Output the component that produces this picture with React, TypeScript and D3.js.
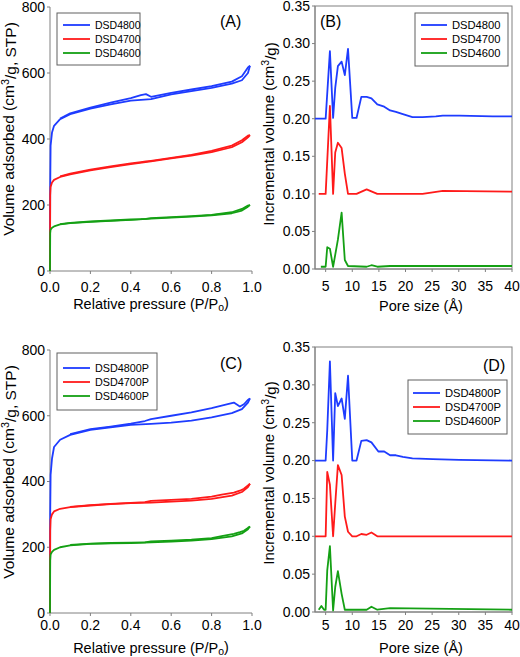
import React from 'react';
import * as d3 from 'd3';

// ---------- colours ----------
const BLUE = '#1e3cff';
const RED = '#ff1a1a';
const GREEN = '#14a014';
const AXIS = '#808080';

// ---------- panel A / C : isotherms ----------
const P_ADS = [0, 0.001, 0.003, 0.01, 0.02, 0.05, 0.1, 0.2, 0.3, 0.4, 0.5, 0.6, 0.7, 0.8, 0.9, 0.95, 0.98, 0.99];

const A_NAMES = ['DSD4800', 'DSD4700', 'DSD4600'];
const A_BLUE_ADS = [0, 250, 380, 420, 440, 460, 475, 492, 505, 516, 521, 535, 545, 555, 568, 578, 600, 622];
const A_RED_ADS = [0, 230, 255, 268, 276, 285, 293, 305, 315, 324, 332, 341, 350, 360, 375, 390, 405, 412];
const A_GREEN_ADS = [0, 115, 125, 131, 135, 141, 145, 149, 152, 155, 159, 162, 165, 169, 175, 183, 195, 200];
const P_DES_A = [0.99, 0.98, 0.95, 0.9, 0.8, 0.7, 0.6, 0.5, 0.475, 0.45, 0.4, 0.3, 0.2, 0.1, 0.05];
const A_BLUE_DES = [622, 617, 590, 574, 560, 550, 540, 528, 536, 533, 524, 510, 495, 478, 462];
const A_RED_DES = [412, 410, 396, 380, 364, 352, 343, 334, 332, 330, 326, 317, 307, 295, 287];
const A_GREEN_DES = [200, 198, 188, 178, 170, 166, 163, 160, 158, 157, 156, 153, 150, 146, 142];

const C_NAMES = ['DSD4800P', 'DSD4700P', 'DSD4600P'];
const C_BLUE_ADS = [0, 300, 420, 470, 505, 527, 542, 557, 565, 572, 575, 579, 585, 595, 608, 620, 640, 653];
const C_RED_ADS = [0, 250, 285, 300, 309, 317, 322, 327, 331, 334, 336, 339, 342, 347, 357, 368, 383, 393];
const C_GREEN_ADS = [0, 160, 178, 186, 192, 200, 206, 210, 212, 213, 215, 217, 220, 225, 233, 242, 255, 263];
const P_DES_C = [0.99, 0.98, 0.96, 0.94, 0.91, 0.85, 0.8, 0.7, 0.6, 0.5, 0.47, 0.4, 0.3, 0.2, 0.1];
const C_BLUE_DES = [653, 648, 635, 628, 640, 631, 623, 610, 600, 590, 584, 576, 567, 559, 544];
const C_RED_DES = [393, 388, 378, 372, 366, 360, 354, 347, 344, 341, 337, 335, 332, 328, 323];
const C_GREEN_DES = [263, 259, 250, 246, 241, 234, 228, 223, 220, 218, 215, 214, 213, 211, 207];

const ISO_X_TICKS = [0, 0.2, 0.4, 0.6, 0.8, 1.0];
const ISO_Y_TICKS = [0, 200, 400, 600, 800];

// ---------- panel B / D : pore size distributions ----------
const B_BLUE_X = [3, 5, 5.8, 6.4, 6.8, 7.3, 8.0, 8.6, 9.2, 10.0, 10.8, 11.7, 12.7, 13.6, 14.7, 16, 17.1, 18.2, 19.5, 21.3, 23.2, 25.7, 27, 30.1, 36.4, 40];
const B_BLUE_Y = [0.2, 0.2, 0.29, 0.201, 0.241, 0.27, 0.276, 0.258, 0.293, 0.201, 0.201, 0.229, 0.229, 0.227, 0.219, 0.216, 0.211, 0.209, 0.206, 0.202, 0.202, 0.203, 0.204, 0.204, 0.203, 0.203];
const B_RED_X = [3.7, 5, 5.8, 6.4, 6.8, 7.3, 8.0, 8.6, 9.2, 10.8, 12.7, 14.7, 21.3, 23.2, 27, 40];
const B_RED_Y = [0.1, 0.1, 0.217, 0.1, 0.155, 0.168, 0.161, 0.127, 0.1, 0.1, 0.106, 0.1, 0.1, 0.1, 0.104, 0.103];
const B_GREEN_X = [4.1, 5, 5.3, 5.8, 6.4, 7.3, 8.0, 8.6, 9.2, 12.7, 13.6, 14.7, 17.1, 40];
const B_GREEN_Y = [0.003, 0.003, 0.029, 0.027, 0.003, 0.039, 0.075, 0.012, 0.004, 0.003, 0.005, 0.003, 0.004, 0.004];

const D_BLUE_X = [3, 5, 5.3, 5.8, 6.4, 6.8, 7.3, 8.0, 8.6, 9.2, 10, 10.8, 11.7, 12.7, 13.6, 14.9, 16, 17.1, 18.2, 19.5, 21.3, 25.1, 30.1, 40];
const D_BLUE_Y = [0.2, 0.2, 0.24, 0.331, 0.2, 0.289, 0.272, 0.282, 0.255, 0.312, 0.2, 0.2, 0.226, 0.227, 0.224, 0.212, 0.212, 0.207, 0.207, 0.205, 0.203, 0.202, 0.201, 0.2];
const D_RED_X = [3, 5, 5.3, 5.8, 6.4, 6.8, 7.3, 8.0, 8.6, 9.2, 10, 10.8, 11.7, 12.7, 13.6, 14.7, 40];
const D_RED_Y = [0.1, 0.1, 0.185, 0.168, 0.1, 0.143, 0.194, 0.181, 0.126, 0.106, 0.1, 0.1, 0.103, 0.102, 0.105, 0.1, 0.1];
const D_GREEN_X = [3.7, 4.2, 4.7, 5, 5.3, 5.8, 6.4, 6.8, 7.3, 8.0, 8.6, 12.7, 13.6, 14.7, 17.1, 40];
const D_GREEN_Y = [0.003, 0.008, 0.003, 0.003, 0.055, 0.087, 0.002, 0.033, 0.054, 0.024, 0.003, 0.003, 0.007, 0.003, 0.005, 0.003];

const PSD_X_TICKS = [5, 10, 15, 20, 25, 30, 35, 40];
const PSD_Y_TICKS = [0, 0.05, 0.1, 0.15, 0.2, 0.25, 0.3, 0.35];

const FONT = '"Liberation Sans", Arial, sans-serif';

type Line = { x: number[]; y: number[]; color: string };

interface PanelProps {
  x0: number; x1: number; y0: number; y1: number;
  xDomain: [number, number]; yDomain: [number, number];
  xTicks: number[]; yTicks: number[];
  xFmt: (v: number) => string; yFmt: (v: number) => string;
  lines: Line[];
  box: boolean;
  tag: string; tagX: number; tagY: number;
  legend: { names: string[]; colors: string[]; x: number; y: number; w: number; h: number; lx0: number; lx1: number; tx: number; rows: number[]; fs: number };
  yTitle: React.ReactNode; yTitleX: number; yTitleY: number; yTitleFs: number;
  xTitle: React.ReactNode; xTitleX: number; xTitleY: number;
  xTickY: number; yTickX: number;
}

function Panel(p: PanelProps) {
  const xs = d3.scaleLinear().domain(p.xDomain).range([p.x0, p.x1]);
  const ys = d3.scaleLinear().domain(p.yDomain).range([p.y1, p.y0]);
  const gen = d3.line<[number, number]>().x(d => xs(d[0])).y(d => ys(d[1]));
  return (
    <g>
      {p.box && (
        <rect x={p.x0} y={p.y0} width={p.x1 - p.x0} height={p.y1 - p.y0} fill="none" stroke={AXIS} strokeWidth={1} />
      )}
      <line x1={p.x0} x2={p.x0} y1={p.y0} y2={p.y1} stroke={AXIS} strokeWidth={1} />
      <line x1={p.x0} x2={p.x1} y1={p.y1} y2={p.y1} stroke={AXIS} strokeWidth={1} />
      {p.xTicks.map(t => (
        <g key={'xt' + t}>
          <line x1={xs(t)} x2={xs(t)} y1={p.y1} y2={p.y1 + 3} stroke={AXIS} />
          <text x={xs(t)} y={p.xTickY} textAnchor="middle" fontSize={14} fontFamily={FONT} fill="#000">{p.xFmt(t)}</text>
        </g>
      ))}
      {p.yTicks.map(t => (
        <g key={'yt' + t}>
          <line x1={p.x0 - 3} x2={p.x0} y1={ys(t)} y2={ys(t)} stroke={AXIS} />
          <text x={p.yTickX} y={ys(t)} dy="0.35em" textAnchor="end" fontSize={14} fontFamily={FONT} fill="#000">{p.yFmt(t)}</text>
        </g>
      ))}
      {p.lines.map((l, i) => (
        <path key={'l' + i} d={gen(l.x.map((v, j) => [v, l.y[j]] as [number, number])) || ''} fill="none" stroke={l.color} strokeWidth={1.8} strokeLinejoin="round" />
      ))}
      <rect x={p.legend.x} y={p.legend.y} width={p.legend.w} height={p.legend.h} fill="#fff" stroke="#606060" strokeWidth={1} />
      {p.legend.names.map((n, i) => (
        <g key={'lg' + n}>
          <line x1={p.legend.lx0} x2={p.legend.lx1} y1={p.legend.rows[i]} y2={p.legend.rows[i]} stroke={p.legend.colors[i]} strokeWidth={1.8} />
          <text x={p.legend.tx} y={p.legend.rows[i]} dy="0.36em" fontSize={p.legend.fs} fontFamily={FONT} fill="#000">{n}</text>
        </g>
      ))}
      <text x={p.tagX} y={p.tagY} fontSize={16} fontFamily={FONT} fill="#000">{p.tag}</text>
      <text transform={`translate(${p.yTitleX},${p.yTitleY}) rotate(-90)`} textAnchor="middle" fontSize={p.yTitleFs} fontFamily={FONT} fill="#000">{p.yTitle}</text>
      <text x={p.xTitleX} y={p.xTitleY} textAnchor="middle" fontSize={14.5} fontFamily={FONT} fill="#000">{p.xTitle}</text>
    </g>
  );
}

const isoTitle = <>Volume adsorbed (cm<tspan fontSize="0.7em" dy="-0.45em">3</tspan><tspan dy="0.45em">/g, STP)</tspan></>;
const psdTitle = <>Incremental volume (cm<tspan fontSize="0.7em" dy="-0.45em">3</tspan><tspan dy="0.45em">/g)</tspan></>;
const presTitle = <>Relative pressure (P/P<tspan fontSize="0.72em" dy="0.15em">o</tspan><tspan dy="-0.15em">)</tspan></>;
const poreTitle = <>Pore size (Å)</>;

const f1 = d3.format('.1f');
const f2 = d3.format('.2f');
const f0 = d3.format('d');

export default function App() {
  const colors = [BLUE, RED, GREEN];
  const isoLinesA: Line[] = [
    { x: P_ADS, y: A_BLUE_ADS, color: BLUE }, { x: P_DES_A, y: A_BLUE_DES, color: BLUE },
    { x: P_ADS, y: A_RED_ADS, color: RED }, { x: P_DES_A, y: A_RED_DES, color: RED },
    { x: P_ADS, y: A_GREEN_ADS, color: GREEN }, { x: P_DES_A, y: A_GREEN_DES, color: GREEN },
  ];
  const isoLinesC: Line[] = [
    { x: P_ADS, y: C_BLUE_ADS, color: BLUE }, { x: P_DES_C, y: C_BLUE_DES, color: BLUE },
    { x: P_ADS, y: C_RED_ADS, color: RED }, { x: P_DES_C, y: C_RED_DES, color: RED },
    { x: P_ADS, y: C_GREEN_ADS, color: GREEN }, { x: P_DES_C, y: C_GREEN_DES, color: GREEN },
  ];
  const psdB: Line[] = [
    { x: B_BLUE_X, y: B_BLUE_Y, color: BLUE },
    { x: B_RED_X, y: B_RED_Y, color: RED },
    { x: B_GREEN_X, y: B_GREEN_Y, color: GREEN },
  ];
  const psdD: Line[] = [
    { x: D_BLUE_X, y: D_BLUE_Y, color: BLUE },
    { x: D_RED_X, y: D_RED_Y, color: RED },
    { x: D_GREEN_X, y: D_GREEN_Y, color: GREEN },
  ];
  return (
    <svg width={520} height={657} style={{ position: 'absolute', left: 0, top: 0, background: '#fff' }}>
      <Panel x0={50} x1={252} y0={7} y1={271} xDomain={[0, 1]} yDomain={[0, 800]}
        xTicks={ISO_X_TICKS} yTicks={ISO_Y_TICKS} xFmt={f1} yFmt={f0} lines={isoLinesA} box={false}
        tag="(A)" tagX={220} tagY={27}
        legend={{ names: A_NAMES, colors, x: 57, y: 13, w: 83, h: 52, lx0: 63, lx1: 90, tx: 95, rows: [25, 39, 53], fs: 10.5 }}
        yTitle={isoTitle} yTitleX={14} yTitleY={129} yTitleFs={15.5}
        xTitle={presTitle} xTitleX={151} xTitleY={309} xTickY={292} yTickX={45} />
      <Panel x0={315} x1={512} y0={6} y1={269} xDomain={[3, 40]} yDomain={[0, 0.35]}
        xTicks={PSD_X_TICKS} yTicks={PSD_Y_TICKS} xFmt={f0} yFmt={f2} lines={psdB} box={true}
        tag="(B)" tagX={320} tagY={27}
        legend={{ names: A_NAMES, colors, x: 415, y: 13, w: 93, h: 53, lx0: 421, lx1: 447, tx: 452, rows: [25, 39, 53], fs: 11.2 }}
        yTitle={psdTitle} yTitleX={274} yTitleY={134} yTitleFs={15}
        xTitle={poreTitle} xTitleX={421} xTitleY={311} xTickY={291} yTickX={310} />
      <Panel x0={50} x1={252} y0={350} y1={613} xDomain={[0, 1]} yDomain={[0, 800]}
        xTicks={ISO_X_TICKS} yTicks={ISO_Y_TICKS} xFmt={f1} yFmt={f0} lines={isoLinesC} box={false}
        tag="(C)" tagX={220} tagY={369}
        legend={{ names: C_NAMES, colors, x: 57, y: 353, w: 100, h: 57, lx0: 63, lx1: 90, tx: 95, rows: [368, 382, 396], fs: 10.8 }}
        yTitle={isoTitle} yTitleX={14} yTitleY={472} yTitleFs={15.5}
        xTitle={presTitle} xTitleX={151} xTitleY={653} xTickY={630} yTickX={45} />
      <Panel x0={315} x1={512} y0={347} y1={612} xDomain={[3, 40]} yDomain={[0, 0.35]}
        xTicks={PSD_X_TICKS} yTicks={PSD_Y_TICKS} xFmt={f0} yFmt={f2} lines={psdD} box={true}
        tag="(D)" tagX={483} tagY={371}
        legend={{ names: C_NAMES, colors, x: 408, y: 380, w: 99, h: 54, lx0: 413, lx1: 440, tx: 445, rows: [393, 407, 421], fs: 11.2 }}
        yTitle={psdTitle} yTitleX={274} yTitleY={473} yTitleFs={15}
        xTitle={poreTitle} xTitleX={421} xTitleY={653} xTickY={630} yTickX={310} />
    </svg>
  );
}
